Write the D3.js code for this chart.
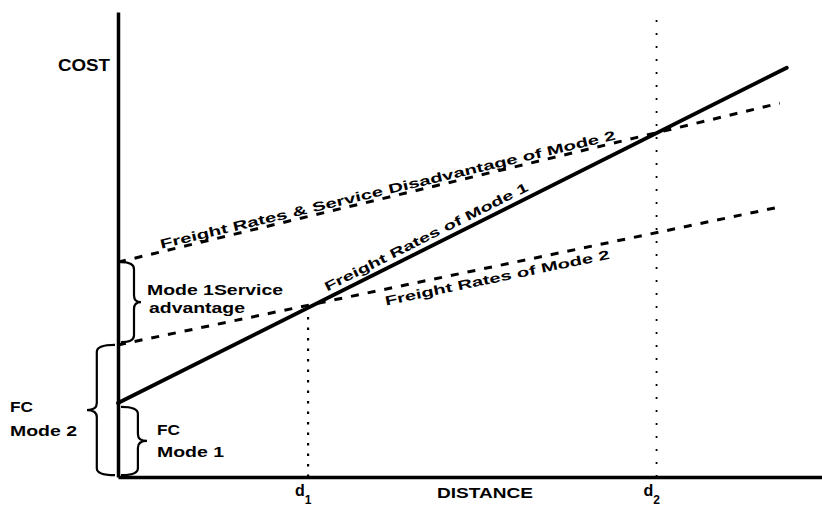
<!DOCTYPE html>
<html>
<head>
<meta charset="utf-8">
<script src="https://cdn.jsdelivr.net/npm/d3@7"></script>
<style>
  body { margin: 0; background: #fff; }
  svg { display: block; }
  text { font-family: "Liberation Sans", Arial, sans-serif; font-weight: bold; fill: #000; }
</style>
</head>
<body>
<svg id="chart" width="822" height="513"></svg>
<script>
// cost vs distance, points as [distance, cost]
const mode1Rates = [[0, 15.9], [95, 88]];
const mode2Rates = [[0, 28.4], [93.75, 58]];
const mode2WithService = [[0, 46.2], [94, 80.4]];

const distanceMarks = [27, 76.5];
const distanceSubs = ["1", "2"];

const lineLabels = ["Freight Rates & Service Disadvantage of Mode 2", "Freight Rates of Mode 1", "Freight Rates of Mode 2"];
const braceLabels = [["Mode 1Service", "advantage"], ["FC", "Mode 1"], ["FC", "Mode 2"]];

const svg = d3.select("#chart");

const x = d3.scaleLinear().domain([0, 100]).range([118, 822]);
const y = d3.scaleLinear().domain([0, 100]).range([477, 12]);

// axes (no ticks, just the lines)
const xAxis = svg.append("g")
  .attr("transform", `translate(0,${y(0)})`)
  .call(d3.axisBottom(x).tickValues([]).tickSizeOuter(0));
const yAxis = svg.append("g")
  .attr("transform", `translate(${x(0)},0)`)
  .call(d3.axisLeft(y).tickValues([]).tickSizeOuter(0));
svg.selectAll(".domain").attr("stroke", "#000").attr("stroke-width", 3.5);

const line = d3.line().x(d => x(d[0])).y(d => y(d[1]));

// value of a straight series at a distance
function at(series, d) {
  const [a, b] = series;
  return a[1] + (b[1] - a[1]) * (d - a[0]) / (b[0] - a[0]);
}

// dotted verticals at d1 and d2
svg.append("line")
  .attr("x1", x(distanceMarks[0])).attr("x2", x(distanceMarks[0]))
  .attr("y1", y(0)).attr("y2", y(at(mode1Rates, distanceMarks[0])))
  .attr("stroke", "#000").attr("stroke-width", 2.2).attr("stroke-dasharray", "2.5,8");
svg.append("line")
  .attr("x1", x(distanceMarks[1])).attr("x2", x(distanceMarks[1]))
  .attr("y1", y(0)).attr("y2", y(98.5))
  .attr("stroke", "#000").attr("stroke-width", 1.8).attr("stroke-dasharray", "2,11");

svg.append("path").datum(mode2Rates)
  .attr("fill", "none").attr("stroke", "#000").attr("stroke-width", 3)
  .attr("stroke-dasharray", "8,9").attr("d", line);
svg.append("path").datum(mode2WithService)
  .attr("fill", "none").attr("stroke", "#000").attr("stroke-width", 3)
  .attr("stroke-dasharray", "8,9").attr("d", line);
svg.append("path").datum(mode1Rates)
  .attr("fill", "none").attr("stroke", "#000").attr("stroke-width", 3.8)
  .attr("stroke-linecap", "round").attr("d", line);

// labels along the lines
function lineLabel(series, text, startD, offset, len, size) {
  const ang = Math.atan2(y(series[1][1]) - y(series[0][1]), x(series[1][0]) - x(series[0][0]));
  const px = x(startD) - Math.sin(ang) * offset;
  const py = y(at(series, startD)) + Math.cos(ang) * offset;
  svg.append("text")
    .attr("transform", `translate(${px},${py}) rotate(${ang * 180 / Math.PI})`)
    .attr("textLength", len).attr("lengthAdjust", "spacingAndGlyphs")
    .style("font-size", size + "px")
    .text(text);
}
lineLabel(mode2WithService, lineLabels[0], 6.25, -3, 468, 13);
lineLabel(mode1Rates, lineLabels[1], 30.1, -6, 226, 13);
lineLabel(mode2Rates, lineLabels[2], 37.6, 16, 229, 13);

// curly braces on the cost axis
function brace(x0, c1, c2, dir, w) {
  const yt = y(c2), yb = y(c1), ym = (yt + yb) / 2, q = 7;
  const xa = x0 + dir * w * 0.65, xt = x0 + dir * w;
  const p = `M${x0},${yt} Q${xa},${yt} ${xa},${yt + q} L${xa},${ym - q} Q${xa},${ym} ${xt},${ym}` +
    ` Q${xa},${ym} ${xa},${ym + q} L${xa},${yb - q} Q${xa},${yb} ${x0},${yb}`;
  svg.append("path").attr("d", p).attr("fill", "none").attr("stroke", "#000").attr("stroke-width", 2.2);
}
brace(x(0) + 3, mode2Rates[0][1] + 0.6, mode2WithService[0][1], 1, 20);
brace(x(0) + 3, 0.4, mode1Rates[0][1] - 0.8, 1, 26);
brace(x(0) - 3, 0.4, mode2Rates[0][1], -1, 28);

function label(tx, ty, text, len, size) {
  svg.append("text").attr("x", tx).attr("y", ty)
    .attr("textLength", len).attr("lengthAdjust", "spacingAndGlyphs")
    .style("font-size", size + "px").text(text);
}
label(147, 295, braceLabels[0][0], 136, 14);
label(149, 313, braceLabels[0][1], 96, 14);
label(157, 435, braceLabels[1][0], 23, 14);
label(157, 457, braceLabels[1][1], 67, 14);
label(10, 412, braceLabels[2][0], 23, 14);
label(10, 436, braceLabels[2][1], 67, 14);

// axis titles
label(58, 71, "COST", 52, 16);
label(437, 498, "DISTANCE", 96, 15);

// d1, d2 under the distance axis
distanceMarks.forEach((d, i) => {
  const t = svg.append("text")
    .attr("x", x(d) - 13).attr("y", 496)
    .style("font-size", "16px");
  t.append("tspan").text("d");
  t.append("tspan").attr("dy", 8).style("font-size", "12px").text(distanceSubs[i]);
});
</script>
</body>
</html>
